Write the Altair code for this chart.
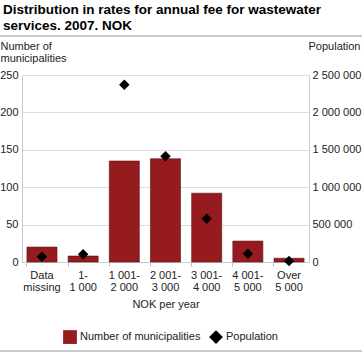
import altair as alt
import pandas as pd

categories = ["Data|missing", "1-|1 000", "1 001-|2 000", "2 001-|3 000",
              "3 001-|4 000", "4 001-|5 000", "Over|5 000"]
municipalities = [20, 8, 135, 138, 92, 28, 5]
population = [70000, 103000, 2370000, 1415000, 578000, 110000, 13000]
series_names = ["Number of municipalities", "Population"]

df = pd.DataFrame({
    "cat": categories,
    "mun": municipalities,
    "pop": population,
    "series": series_names[1],
})
one = pd.DataFrame({"k": [0]})

FONT = "Liberation Sans"
RED = "#961B1F"

x_enc = alt.X(
    "cat:N", sort=categories, title="NOK per year",
    scale=alt.Scale(paddingInner=0.27, paddingOuter=0.12),
    axis=alt.Axis(labelExpr="split(datum.label, '|')", labelAngle=0,
                  bandPosition=0, tickColor="#bbbbbb", tickSize=4,
                  domainColor="#cccccc", labelFontSize=11, labelFont=FONT,
                  labelColor="#222", labelPadding=3, labelLineHeight=12,
                  titleFontSize=11, titleFont=FONT, titleFontWeight="normal",
                  titleColor="#222", titlePadding=6),
)

bars = alt.Chart(df).mark_bar(color=RED, stroke="#5a1012", strokeWidth=0.6).encode(
    x=x_enc,
    y=alt.Y("mun:Q", scale=alt.Scale(domain=[0, 250]),
            axis=alt.Axis(values=[0, 50, 100, 150, 200, 250], ticks=False,
                          domainColor="#cccccc", gridColor="#dddddd",
                          labelFontSize=11, labelFont=FONT, labelColor="#222",
                          labelPadding=4,
                          title=["Number of", "municipalities"], titleAngle=0,
                          titleAlign="left", titleBaseline="top", titleX=-22,
                          titleY=-35, titleFontSize=11, titleFont=FONT,
                          titleFontWeight="normal", titleColor="#222",
                          titleLineHeight=12)),
)

leg = alt.Legend(title=None, orient="none", legendX=41, legendY=255,
                 direction="horizontal", symbolSize=190, labelFontSize=11,
                 labelFont=FONT, labelColor="#222", columnPadding=8,
                 symbolStrokeWidth=0, symbolOpacity=1, labelOffset=3)

points = alt.Chart(df).mark_point(filled=True, size=110, opacity=1).encode(
    x=alt.X("cat:N", sort=categories),
    y=alt.Y("pop:Q", scale=alt.Scale(domain=[0, 2500000]),
            axis=alt.Axis(orient="right",
                          values=[0, 500000, 1000000, 1500000, 2000000, 2500000],
                          labelExpr="replace(replace(format(datum.value, ','), ',', ' '), ',', ' ')",
                          ticks=False, grid=False, domainColor="#cccccc",
                          labelFontSize=11, labelFont=FONT, labelColor="#222",
                          labelPadding=3,
                          title="Population", titleAngle=0, titleAlign="right",
                          titleBaseline="top", titleX=51, titleY=-35,
                          titleFontSize=11, titleFont=FONT,
                          titleFontWeight="normal", titleColor="#222")),
    color=alt.Color("series:N",
                    scale=alt.Scale(domain=series_names, range=[RED, "black"]),
                    legend=leg),
    shape=alt.Shape("series:N",
                    scale=alt.Scale(domain=series_names, range=["square", "diamond"]),
                    legend=leg),
)

top_rule = alt.Chart(one).mark_rule(color="#b8b8b8", strokeWidth=1.5).encode(
    x=alt.value(-22), x2=alt.value(340), y=alt.value(-39))
bottom_rule = alt.Chart(one).mark_rule(color="#b8b8b8", strokeWidth=1.5).encode(
    x=alt.value(-22), x2=alt.value(340), y=alt.value(276))

chart = alt.layer(top_rule, bottom_rule, bars, points).resolve_scale(
    y="independent"
).properties(
    width=287, height=187,
    autosize=alt.AutoSizeParams(type="none"),
    padding={"left": 22, "top": 75, "right": 53, "bottom": 91},
    title=alt.TitleParams(
        text=["Distribution in rates for annual fee for wastewater",
              "services. 2007. NOK"],
        anchor="start", frame="group", font=FONT, fontSize=13.5,
        fontWeight="bold", color="black", lineHeight=16, dx=-19, dy=-3,
        baseline="top", offset=0),
).configure_view(stroke=None)

chart.save("out.html", embed_options={"renderer": "svg", "actions": False})
